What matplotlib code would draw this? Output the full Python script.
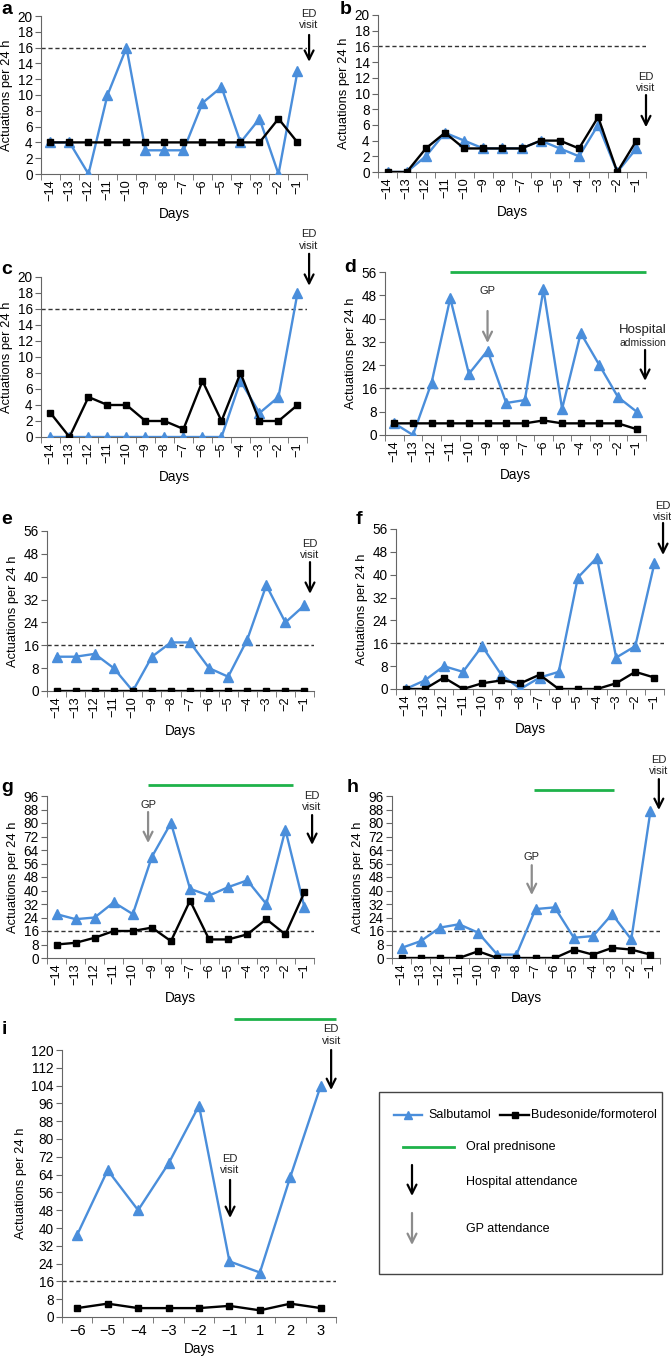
import numpy as np
import matplotlib.pyplot as plt
from matplotlib.patches import Rectangle

plt.rcParams['font.family'] = ['Liberation Sans', 'DejaVu Sans']

BLUE = '#4a8edb'
GREEN = '#1eb24a'
GREY = '#8c8c8c'
AXC = '#666666'

# data
days = list(range(-14, 0))
day_labels = ['\u2212%d' % -d for d in days]

sal_a = [4, 4, 0, 10, 16, 3, 3, 3, 9, 11, 4, 7, 0, 13]
bud_a = [4, 4, 4, 4, 4, 4, 4, 4, 4, 4, 4, 4, 7, 4]

sal_b = [0, 0, 2, 5, 4, 3, 3, 3, 4, 3, 2, 6, 0, 3]
bud_b = [0, 0, 3, 5, 3, 3, 3, 3, 4, 4, 3, 7, 0, 4]

sal_c = [0, 0, 0, 0, 0, 0, 0, 0, 0, 0, 7, 3, 5, 18]
bud_c = [3, 0, 5, 4, 4, 2, 2, 1, 7, 2, 8, 2, 2, 4]

sal_d = [4, 0, 18, 47, 21, 29, 11, 12, 50, 9, 35, 24, 13, 8]
bud_d = [4, 4, 4, 4, 4, 4, 4, 4, 5, 4, 4, 4, 4, 2]

sal_e = [12, 12, 13, 8, 0, 12, 17, 17, 8, 5, 18, 37, 24, 30]
bud_e = [0, 0, 0, 0, 0, 0, 0, 0, 0, 0, 0, 0, 0, 0]

sal_f = [0, 3, 8, 6, 15, 5, 0, 4, 6, 39, 46, 11, 15, 44]
bud_f = [0, 0, 4, 0, 2, 3, 2, 5, 0, 0, 0, 2, 6, 4]

sal_g = [26, 23, 24, 33, 26, 60, 80, 41, 37, 42, 46, 32, 76, 30]
bud_g = [8, 9, 12, 16, 16, 18, 10, 34, 11, 11, 14, 23, 14, 39]

sal_h = [6, 10, 18, 20, 15, 2, 2, 29, 30, 12, 13, 26, 11, 87]
bud_h = [0, 0, 0, 0, 4, 0, 0, 0, 0, 5, 2, 6, 5, 2]

days_i = ['\u22126', '\u22125', '\u22124', '\u22123', '\u22122', '\u22121', '1', '2', '3']
sal_i = [37, 66, 48, 69, 95, 25, 20, 63, 104]
bud_i = [4, 6, 4, 4, 4, 5, 3, 6, 4]

THRESHOLD = 16

W, H = 671, 1360
fig = plt.figure(figsize=(W / 100, H / 100), dpi=100)


def new_ax(x0, y0, x1, y1):
    return fig.add_axes([x0 / W, 1 - y1 / H, (x1 - x0) / W, (y1 - y0) / H])


def panel(box, x, labels, sal, bud, ymax, rotate=True):
    ax = new_ax(*box)
    ax.plot(x, sal, color=BLUE, lw=1.7, marker='^', ms=7.5, mec=BLUE, zorder=3)
    ax.plot(x, bud, color='black', lw=1.7, marker='s', ms=5, zorder=4)
    ax.axhline(THRESHOLD, color='#333333', ls=(0, (3, 2)), lw=1, zorder=1)
    ax.set_xlim(x[0] - 0.5, x[-1] + 0.5)
    ax.set_ylim(0, ymax)
    step = 2 if ymax <= 20 else 8
    ax.set_yticks(np.arange(0, ymax + 1, step))
    ax.set_xticks(x, labels, rotation=90 if rotate else 0)
    ax.set_xticks(np.arange(x[0] - 0.5, x[-1] + 1, 1.0), minor=True)
    ax.tick_params(axis='x', which='major', length=0, labelsize=9.2 if rotate else 10.5, pad=4)
    ax.tick_params(axis='x', which='minor', length=4, color=AXC)
    ax.tick_params(axis='y', length=4, color=AXC, labelsize=9.8, pad=2)
    for s in ['top', 'right']:
        ax.spines[s].set_visible(False)
    for s in ['left', 'bottom']:
        ax.spines[s].set_color(AXC)
    ax.set_xlabel('Days', fontsize=9.8, labelpad=4)
    ax.set_ylabel('Actuations per 24 h', fontsize=9.3, labelpad=3)
    return ax


def visit(ax, x, y_text, y_tail, y_tip, text='ED\nvisit', color='black', fs=8):
    if text:
        ax.text(x, y_text, text, ha='center', va='bottom', fontsize=fs, color='#222222',
                clip_on=False, linespacing=1.15)
    ax.annotate('', xy=(x, y_tip), xytext=(x, y_tail), annotation_clip=False,
                arrowprops=dict(arrowstyle='->', color=color, lw=1.6, mutation_scale=16,
                                shrinkA=0, shrinkB=0))


def steroid(ax, x0, x1, y):
    ax.plot([x0, x1], [y, y], color=GREEN, lw=2, clip_on=False, solid_capstyle='butt')


ax = panel((41, 16, 307, 174), days, day_labels, sal_a, bud_a, 20)
visit(ax, -0.39, 18.2, 17.6, 14.2)

ax = panel((378, 15, 646, 172), days, day_labels, sal_b, bud_b, 20)
visit(ax, -0.5, 10.1, 9.8, 5.7)

ax = panel((41, 277, 307, 437), days, day_labels, sal_c, bud_c, 20)
visit(ax, -0.39, 23.3, 22.9, 18.9)

ax = panel((385, 272, 646, 435), days, day_labels, sal_d, bud_d, 56)
steroid(ax, -11, -0.5, 56)
visit(ax, -9, 47.8, 42.6, 31.6, text='GP', color=GREY)
ax.text(-0.66, 36.1, 'Hospital', ha='center', va='center', fontsize=9.5, color='#222222', clip_on=False)
ax.text(-0.66, 31.6, 'admission', ha='center', va='center', fontsize=7.5, color='#222222', clip_on=False)
visit(ax, -0.55, 0, 29.2, 18.6, text=None)

ax = panel((47, 531, 314, 691), days, day_labels, sal_e, bud_e, 56)
visit(ax, -0.71, 45.9, 45.1, 34)

ax = panel((396, 529, 664, 689), days, day_labels, sal_f, bud_f, 56)
visit(ax, -0.55, 58.5, 58.1, 46.9)

ax = panel((47, 796, 314, 958), days, day_labels, sal_g, bud_g, 96)
steroid(ax, -9.2, -1.6, 102.5)
visit(ax, -9.2, 87.5, 86.5, 68.1, text='GP', color=GREY)
visit(ax, -0.6, 86.5, 84.7, 67)

ax = panel((392, 796, 660, 958), days, day_labels, sal_h, bud_h, 96)
steroid(ax, -7.1, -2.9, 99.6)
visit(ax, -7.2, 57, 55, 37.3, text='GP', color=GREY)
visit(ax, -0.56, 107.9, 106, 87.7)

xi = np.arange(len(days_i))
ax = panel((62, 1050, 336, 1317), xi, days_i, sal_i, bud_i, 120, rotate=False)
ax.tick_params(axis='x', which='major', pad=5)
ax.xaxis.labelpad = 3
steroid(ax, 5.15, 8.5, 134)
visit(ax, 5.02, 63.8, 61.6, 44.5)
visit(ax, 8.34, 122, 120, 102)

# overlay in pixel coordinates for panel letters and legend
ov = fig.add_axes([0, 0, 1, 1], facecolor='none')
ov.set_xlim(0, W)
ov.set_ylim(H, 0)
ov.axis('off')

for lab, px, py in [('a', 7, 10), ('b', 346, 9), ('c', 7, 270), ('d', 350, 268),
                    ('e', 7, 520), ('f', 359, 520), ('g', 7, 787), ('h', 353, 788),
                    ('i', 4, 1030)]:
    ov.text(px, py, lab, fontsize=14, fontweight='bold', ha='center', va='center')

ov.add_patch(Rectangle((379, 1092), 283, 182, fill=False, ec='#444444', lw=1))
ov.plot([394, 422], [1115, 1115], color=BLUE, lw=1.7)
ov.plot([408], [1115], marker='^', ms=6, color=BLUE)
ov.text(428, 1115, 'Salbutamol', fontsize=9, va='center')
ov.plot([500, 529], [1115, 1115], color='black', lw=1.7)
ov.plot([514.5], [1115], marker='s', ms=4.5, color='black')
ov.text(531, 1115, 'Budesonide/formoterol', fontsize=9, va='center')
ov.plot([403, 454], [1147, 1147], color=GREEN, lw=2)
ov.text(466, 1147, 'Oral prednisone', fontsize=9, va='center')
ov.annotate('', xy=(412, 1196), xytext=(412, 1165),
            arrowprops=dict(arrowstyle='->', color='black', lw=1.6, mutation_scale=16,
                            shrinkA=0, shrinkB=0))
ov.text(466, 1182, 'Hospital attendance', fontsize=9, va='center')
ov.annotate('', xy=(412, 1245), xytext=(412, 1213),
            arrowprops=dict(arrowstyle='->', color=GREY, lw=1.6, mutation_scale=16,
                            shrinkA=0, shrinkB=0))
ov.text(466, 1229, 'GP attendance', fontsize=9, va='center')

fig.savefig('out.png', dpi=100)
